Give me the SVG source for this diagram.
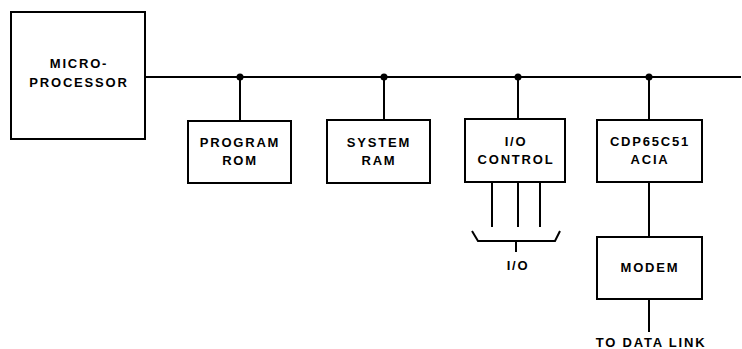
<svg xmlns="http://www.w3.org/2000/svg" width="742" height="349" viewBox="0 0 742 349">
<style>
.box{fill:#fff;stroke:#000;stroke-width:2}
.ln{fill:none;stroke:#000;stroke-width:2}
.t{font-family:"Liberation Sans",Arial,sans-serif;font-weight:bold;font-size:13px;letter-spacing:1.8px;text-anchor:middle;fill:#000}
</style>
<rect width="742" height="349" fill="#fff"/>
<g id="connectors">
<path class="ln" d="M145 77 H741"/>
<path class="ln" d="M240 77 V121 M384 77 V120 M518 77 V120 M649 77 V120"/>
<path class="ln" d="M492 182 V227 M518 182 V227 M540 182 V227"/>
<path class="ln" d="M472 231 L478 241 H555 L560 231 M516 241 V252"/>
<path class="ln" d="M649 182 V237 M649 299 V332"/>
<circle cx="240" cy="77" r="3.5"/>
<circle cx="384" cy="77" r="3.5"/>
<circle cx="518" cy="77" r="3.5"/>
<circle cx="649" cy="77" r="3.5"/>
</g>
<g id="microprocessor">
<rect class="box" x="11" y="12" width="134" height="127"/>
<text class="t" x="79" y="68">MICRO-</text>
<text class="t" x="79" y="87">PROCESSOR</text>
</g>
<g id="program-rom">
<rect class="box" x="188" y="121" width="103" height="62"/>
<text class="t" x="240" y="147">PROGRAM</text>
<text class="t" x="240" y="165">ROM</text>
</g>
<g id="system-ram">
<rect class="box" x="327" y="120" width="103" height="63"/>
<text class="t" x="379" y="147">SYSTEM</text>
<text class="t" x="379" y="165">RAM</text>
</g>
<g id="io-control">
<rect class="box" x="465" y="119" width="100" height="63"/>
<text class="t" x="516" y="146">I/O</text>
<text class="t" x="516" y="164">CONTROL</text>
</g>
<g id="acia">
<rect class="box" x="597" y="120" width="105" height="62"/>
<text class="t" x="650" y="146">CDP65C51</text>
<text class="t" x="650" y="164">ACIA</text>
</g>
<g id="modem">
<rect class="box" x="597" y="237" width="105" height="62"/>
<text class="t" x="650" y="272">MODEM</text>
</g>
<g id="io-label">
<text class="t" x="518" y="270">I/O</text>
</g>
<g id="data-link-label">
<text class="t" x="651" y="347">TO DATA LINK</text>
</g>
</svg>
